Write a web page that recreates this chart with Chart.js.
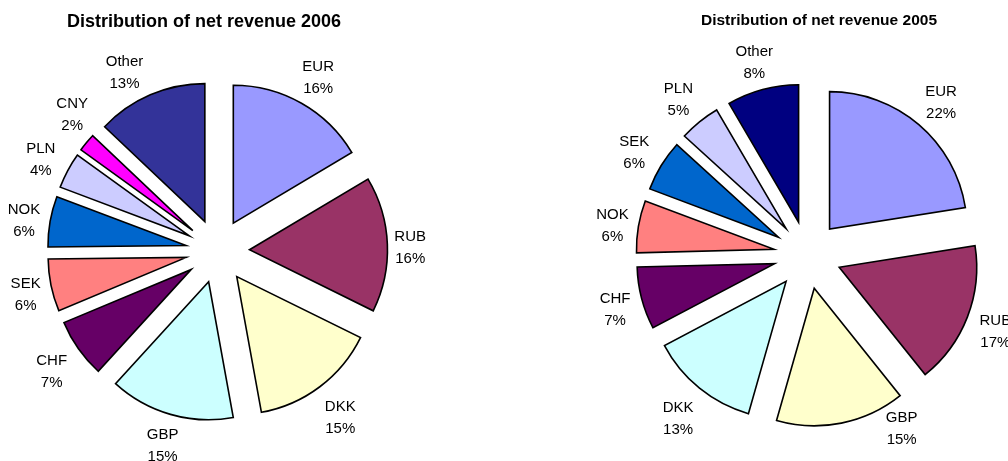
<!DOCTYPE html>
<html>
<head>
<meta charset="utf-8">
<script src="https://cdn.jsdelivr.net/npm/chart.js@4.4.1/dist/chart.umd.min.js"></script>
<style>
  body { margin: 0; background: #fff; }
  #wrap { position: relative; width: 1008px; height: 461px; }
  .box { position: absolute; top: 0; width: 504px; height: 461px; }
</style>
</head>
<body>
<div id="wrap">
  <div class="box" style="left:0"><canvas id="chart2006"></canvas></div>
  <div class="box" style="left:504px"><canvas id="chart2005"></canvas></div>
</div>
<script>
// net revenue share per currency, % (labels show them rounded)
const currencies2006 = ['EUR', 'RUB', 'DKK', 'GBP', 'CHF', 'SEK', 'NOK', 'PLN', 'CNY', 'Other'];
const share2006 = [16.4, 15.8, 14.8, 14.6, 6.9, 6.1, 5.9, 4.2, 2.1, 12.9];
const currencies2005 = ['EUR', 'RUB', 'GBP', 'DKK', 'CHF', 'NOK', 'SEK', 'PLN', 'Other'];
const share2005 = [22.4, 16.7, 15.1, 12.8, 7.3, 6.1, 6.0, 4.8, 8.4];

// excel style fills, by slice position
const colors2006 = ['#9999FF', '#993366', '#FFFFCC', '#CCFFFF', '#660066', '#FF8080', '#0066CC', '#CCCCFF', '#FF00FF', '#333399'];
const colors2005 = ['#9999FF', '#993366', '#FFFFCC', '#CCFFFF', '#660066', '#FF8080', '#0066CC', '#CCCCFF', '#000080'];

const fontFamily = '"Liberation Sans", Arial, Helvetica, sans-serif';

// pull every slice out from the centre by the same distance
const explodePie = {
  id: 'explodePie',
  beforeDatasetDraw(chart, args, opts) {
    const ctx = chart.ctx;
    const d = opts.distance || 0;
    args.meta.data.forEach(arc => {
      const mid = (arc.startAngle + arc.endAngle) / 2;
      ctx.save();
      ctx.translate(Math.cos(mid) * d, Math.sin(mid) * d);
      arc.draw(ctx);
      ctx.restore();
    });
    return false;
  }
};

// "EUR / 16%" labels outside each slice + the title
const sliceLabels = {
  id: 'sliceLabels',
  afterDraw(chart, args, opts) {
    const ctx = chart.ctx;
    const meta = chart.getDatasetMeta(0);
    const values = chart.data.datasets[0].data;
    const explode = chart.options.plugins.explodePie.distance;
    const lh = opts.lineHeight;
    ctx.save();
    ctx.fillStyle = '#000';
    ctx.textAlign = 'center';
    ctx.textBaseline = 'alphabetic';

    ctx.font = 'bold ' + opts.titleSize + 'px ' + fontFamily;
    ctx.fillText(opts.title, opts.titleX, opts.titleY);

    ctx.font = opts.size + 'px ' + fontFamily;
    const cap = opts.size * 0.36;
    meta.data.forEach((arc, i) => {
      const name = chart.data.labels[i];
      const lines = [name, Math.round(values[i]) + '%'];
      let mid = (arc.startAngle + arc.endAngle) / 2;
      let shift = 0;
      const mv = opts.move && opts.move[name];
      if (mv) {
        if (mv.angle !== undefined) mid = mv.angle * Math.PI / 180 - Math.PI / 2;
        shift = mv.shift || 0;
      }
      const hw = Math.max(...lines.map(s => ctx.measureText(s).width)) / 2;
      const hh = lh / 2 + cap;
      const c = Math.cos(mid), s = Math.sin(mid);
      const r = arc.outerRadius + explode + shift +
        Math.abs(c) * (hw + opts.gapX) + Math.abs(s) * (hh + opts.gapY);
      const x = arc.x + c * r, y = arc.y + s * r + opts.dy;
      ctx.fillText(lines[0], x, y - lh / 2 + cap);
      ctx.fillText(lines[1], x, y + lh / 2 + cap);
    });
    ctx.restore();
  }
};

function makePie(id, labels, values, colors, radius, pad, explode, labelOpts) {
  return new Chart(document.getElementById(id), {
    type: 'pie',
    data: {
      labels: labels,
      datasets: [{
        data: values,
        backgroundColor: colors,
        borderColor: '#000',
        borderWidth: 1.6,
        borderJoinStyle: 'miter',
        radius: radius
      }]
    },
    options: {
      responsive: true,
      maintainAspectRatio: false,
      animation: false,
      events: [],
      layout: { padding: pad },
      plugins: {
        legend: { display: false },
        tooltip: { enabled: false },
        explodePie: { distance: explode },
        sliceLabels: labelOpts
      }
    },
    plugins: [explodePie, sliceLabels]
  });
}

makePie('chart2006', currencies2006, share2006, colors2006, 138,
  { left: 0, right: 69, top: 41, bottom: 0 }, 32,
  { title: 'Distribution of net revenue 2006', titleSize: 18, titleX: 204, titleY: 27,
    size: 15, lineHeight: 22, gapX: 6, gapY: 10, dy: 3,
    move: { CNY: { angle: 314, shift: -2 }, Other: { angle: 333, shift: 0 }, GBP: { shift: -3 } } });

makePie('chart2005', currencies2005, share2005, colors2005, 137.5,
  { left: 103, right: 0, top: 49, bottom: 0 }, 34,
  { title: 'Distribution of net revenue 2005', titleSize: 15.5, titleX: 315, titleY: 25,
    size: 15, lineHeight: 22, gapX: 6, gapY: 10, dy: 3,
    move: { GBP: { angle: 151, shift: -11 } } });
</script>
</body>
</html>
